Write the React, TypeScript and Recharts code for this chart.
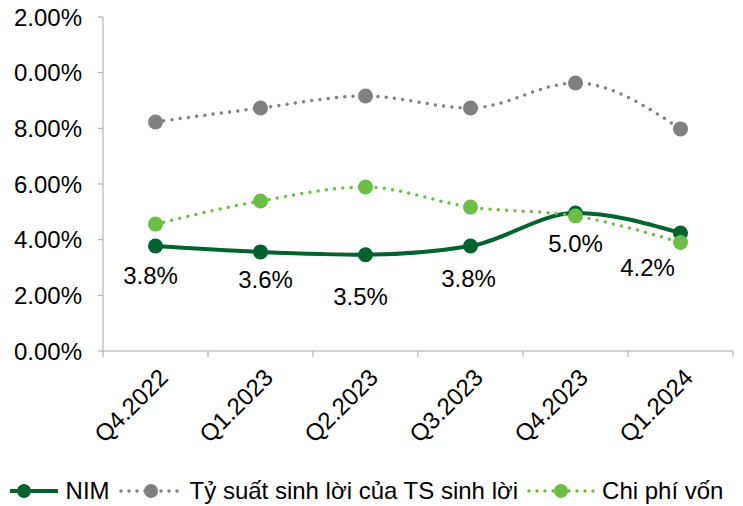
import React from "react";
import { LineChart, Line, XAxis, YAxis, Legend, LabelList } from "recharts";

document.body.style.margin = "0";

const quarters = ["Q4.2022", "Q1.2023", "Q2.2023", "Q3.2023", "Q4.2023", "Q1.2024"];
const nim = [3.77, 3.56, 3.46, 3.77, 4.96, 4.24];
const yieldOnAssets = [8.23, 8.73, 9.16, 8.73, 9.63, 7.98];
const costOfFunds = [4.56, 5.39, 5.89, 5.17, 4.85, 3.9];
const yTicks = [0, 2, 4, 6, 8, 10, 12];
const yTickLabels = ["0.00%", "2.00%", "4.00%", "6.00%", "8.00%", "0.00%", "2.00%"];

const data = quarters.map((q, i) => ({
  name: q,
  nim: nim[i],
  yld: yieldOnAssets[i],
  cof: costOfFunds[i],
}));

const FONT = "'Liberation Sans', Arial, sans-serif";
const DARK = "#00622f";
const GRAY = "#808080";
const LIGHT = "#6cbf45";
const AXIS = "#a6a6a6";

const W = 743;
const H = 506;
const M = { top: 17, right: 10, left: 0, bottom: 0 };
const Y_W = 103;
const plotW = W - M.left - M.right - Y_W;
const step = plotW / quarters.length;

// label placement relative to each NIM point (dx, baseline drop)
const labelNudge = [
  { dx: -5, dy: 38 },
  { dx: 5, dy: 36 },
  { dx: -5, dy: 50 },
  { dx: -2, dy: 41 },
  { dx: 0, dy: 39 },
  { dx: -33, dy: 43 },
];

const NimLabel = (props: any) => {
  const { x, y, value, index } = props;
  const n = labelNudge[index] || { dx: 0, dy: 38 };
  return (
    <text
      x={x + n.dx}
      y={y + n.dy}
      textAnchor="middle"
      fontSize={24}
      fontFamily={FONT}
      fill="#000"
    >
      {value.toFixed(1)}%
    </text>
  );
};

const XTick = (props: any) => {
  const { x, y, payload, index } = props;
  const left = x - step / 2;
  const axisY = y - 8;
  const tx = x + 8;
  const ty = y + 14;
  return (
    <g>
      <line x1={left} y1={axisY} x2={left} y2={axisY + 6} stroke={AXIS} />
      {index === quarters.length - 1 && (
        <line x1={x + step / 2} y1={axisY} x2={x + step / 2} y2={axisY + 6} stroke={AXIS} />
      )}
      <text
        x={tx}
        y={ty}
        transform={`rotate(-45 ${tx} ${ty})`}
        textAnchor="end"
        dominantBaseline="central"
        fontSize={24}
        fontFamily={FONT}
        fill="#000"
      >
        {payload.value}
      </text>
    </g>
  );
};

const legendItems = [
  { label: "NIM", color: DARK, dotted: false, w: 50, dot: 14 },
  { label: "Tỷ suất sinh lời của TS sinh lời", color: GRAY, dotted: true, w: 66, dot: 33 },
  { label: "Chi phí vốn", color: LIGHT, dotted: true, w: 70, dot: 35 },
];

const LegendContent = () => (
  <div
    style={{
      display: "flex",
      justifyContent: "center",
      alignItems: "center",
      fontFamily: FONT,
      fontSize: 24,
      color: "#000",
      gap: 8,
      height: 30,
    }}
  >
    {legendItems.map((it) => (
      <div key={it.label} style={{ display: "flex", alignItems: "center" }}>
        <svg width={it.w} height={16} style={{ marginRight: 6 }}>
          <line
            x1={it.dotted ? 3 : 0}
            y1={8}
            x2={it.w - 2}
            y2={8}
            stroke={it.color}
            strokeWidth={it.dotted ? 3.5 : 4}
            strokeDasharray={it.dotted ? "0 8" : undefined}
            strokeLinecap={it.dotted ? "round" : "butt"}
          />
          <circle cx={it.dot} cy={8} r={7} fill={it.color} />
        </svg>
        <span>{it.label}</span>
      </div>
    ))}
  </div>
);

export default function App() {
  return (
    <div style={{ width: W, height: H, background: "#fff" }}>
      <LineChart width={W} height={H} data={data} margin={M}>
        <XAxis
          dataKey="name"
          axisLine={{ stroke: AXIS }}
          tickLine={false}
          tick={<XTick />}
          height={125}
          interval={0}
          padding={{ left: step / 2, right: step / 2 }}
        />
        <YAxis
          width={Y_W}
          domain={[0, 12]}
          ticks={yTicks}
          interval={0}
          axisLine={{ stroke: AXIS }}
          tickLine={{ stroke: AXIS }}
          tickSize={5}
          tickMargin={16}
          tickFormatter={(v: number) => yTickLabels[yTicks.indexOf(v)]}
          tick={{ fontSize: 24, fontFamily: FONT, fill: "#000" }}
        />
        <Legend verticalAlign="bottom" height={30} content={<LegendContent />} />
        <Line
          type="monotone"
          dataKey="yld"
          stroke={GRAY}
          strokeWidth={3.5}
          strokeDasharray="0 8.3"
          strokeLinecap="round"
          dot={{ r: 7.5, fill: GRAY, stroke: GRAY, strokeWidth: 0, strokeDasharray: "" }}
          isAnimationActive={false}
        />
        <Line
          type="monotone"
          dataKey="nim"
          stroke={DARK}
          strokeWidth={4}
          dot={{ r: 7.5, fill: DARK, stroke: DARK, strokeWidth: 0 }}
          isAnimationActive={false}
        >
          <LabelList dataKey="nim" content={<NimLabel />} />
        </Line>
        <Line
          type="monotone"
          dataKey="cof"
          stroke={LIGHT}
          strokeWidth={3.5}
          strokeDasharray="0 8.3"
          strokeLinecap="round"
          dot={{ r: 7.5, fill: LIGHT, stroke: LIGHT, strokeWidth: 0, strokeDasharray: "" }}
          isAnimationActive={false}
        />
      </LineChart>
    </div>
  );
}
